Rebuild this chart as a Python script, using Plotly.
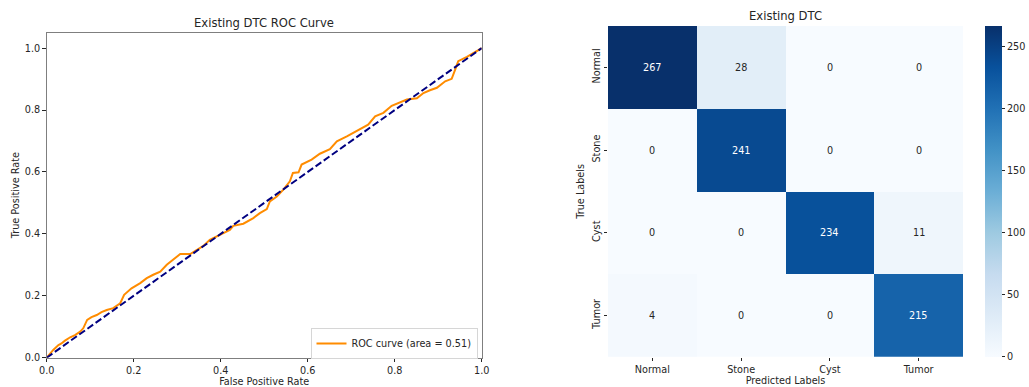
import plotly.graph_objects as go

# ROC curve points for the existing decision-tree classifier
fpr = [0.0, 0.015, 0.027, 0.034, 0.042, 0.054, 0.065, 0.077, 0.084, 0.093, 0.103, 0.115,
       0.126, 0.138, 0.153, 0.169, 0.178, 0.195, 0.215, 0.230, 0.245, 0.261, 0.276, 0.291,
       0.307, 0.330, 0.345, 0.360, 0.375, 0.398, 0.421, 0.429, 0.452, 0.475, 0.490, 0.506,
       0.513, 0.529, 0.544, 0.559, 0.566, 0.579, 0.586, 0.609, 0.628, 0.651, 0.667, 0.690,
       0.720, 0.739, 0.755, 0.774, 0.793, 0.808, 0.828, 0.851, 0.866, 0.881, 0.897, 0.916,
       0.931, 0.939, 0.946, 0.966, 0.981, 1.0]
tpr = [0.0, 0.025, 0.041, 0.046, 0.055, 0.066, 0.073, 0.084, 0.095, 0.122, 0.131, 0.138,
       0.147, 0.154, 0.160, 0.176, 0.203, 0.224, 0.241, 0.257, 0.268, 0.278, 0.300, 0.318,
       0.335, 0.335, 0.348, 0.361, 0.381, 0.397, 0.413, 0.426, 0.433, 0.451, 0.467, 0.480,
       0.505, 0.521, 0.543, 0.570, 0.597, 0.599, 0.624, 0.640, 0.659, 0.674, 0.699, 0.715,
       0.737, 0.753, 0.780, 0.791, 0.814, 0.823, 0.834, 0.838, 0.855, 0.864, 0.872, 0.893,
       0.901, 0.931, 0.958, 0.972, 0.985, 1.0]
roc_auc = 0.51
chance_x = [0, 1]
chance_y = [0, 1]
roc_ticks = [0.0, 0.2, 0.4, 0.6, 0.8, 1.0]

# Confusion matrix
class_labels = ["Normal", "Stone", "Cyst", "Tumor"]
conf_matrix = [
    [267, 28, 0, 0],
    [0, 241, 0, 0],
    [0, 0, 234, 11],
    [4, 0, 0, 215],
]
cbar_ticks = [0, 50, 100, 150, 200, 250]

blues = ["#f7fbff", "#deebf7", "#c6dbef", "#9ecae1", "#6baed6",
         "#4292c6", "#2171b5", "#08519c", "#08306b"]
blues_scale = [[i / (len(blues) - 1), c] for i, c in enumerate(blues)]

W, H = 1029, 387
FONT = "DejaVu Sans"
TXT = "#262626"
TICK_SIZE = 9.7


def px_x(p):
    return p / W


def px_y(p):
    return 1 - p / H


def hex_rgb(h):
    h = h.lstrip("#")
    return [int(h[i:i + 2], 16) / 255 for i in (0, 2, 4)]


def blues_at(t):
    t = min(max(t, 0), 1) * (len(blues) - 1)
    i = min(int(t), len(blues) - 2)
    f = t - i
    a, b = hex_rgb(blues[i]), hex_rgb(blues[i + 1])
    return [a[k] + (b[k] - a[k]) * f for k in range(3)]


def luminance(rgb):
    lin = [c / 12.92 if c <= 0.03928 else ((c + 0.055) / 1.055) ** 2.4 for c in rgb]
    return 0.2126 * lin[0] + 0.7152 * lin[1] + 0.0722 * lin[2]


fig = go.Figure()

fig.add_trace(go.Scatter(
    x=fpr, y=tpr, mode="lines",
    line=dict(color="#ff8c00", width=2),
    name=f"ROC curve (area = {roc_auc:.2f})",
    xaxis="x", yaxis="y",
))
fig.add_trace(go.Scatter(
    x=chance_x, y=chance_y, mode="lines",
    line=dict(color="#000080", width=2, dash="7px,3px"),
    showlegend=False, xaxis="x", yaxis="y",
))

zmax = max(max(r) for r in conf_matrix)
fig.add_trace(go.Heatmap(
    z=conf_matrix, x=class_labels, y=class_labels,
    colorscale=blues_scale, zmin=0, zmax=zmax,
    xaxis="x2", yaxis="y2", showscale=True,
    colorbar=dict(
        x=px_x(985), xanchor="left", xpad=0,
        y=px_y(356.7), yanchor="bottom", ypad=0,
        len=(356.7 - 26) / H, lenmode="fraction",
        thickness=17, outlinewidth=0,
        tickvals=cbar_ticks, ticks="outside", ticklen=3.5,
        tickcolor=TXT, tickfont=dict(family=FONT, size=TICK_SIZE, color=TXT),
    ),
))

annotations = []
for i, row in enumerate(conf_matrix):
    for j, v in enumerate(row):
        lum = luminance(blues_at(v / zmax))
        annotations.append(dict(
            x=class_labels[j], y=class_labels[i], xref="x2", yref="y2",
            text=str(v), showarrow=False,
            font=dict(family=FONT, size=TICK_SIZE, color="#ffffff" if lum < 0.408 else TXT),
        ))

annotations.append(dict(
    x=px_x(264.2), y=px_y(23), xref="paper", yref="paper",
    text="Existing DTC ROC Curve", showarrow=False,
    font=dict(family=FONT, size=11.6, color=TXT),
    xanchor="center", yanchor="middle",
))
annotations.append(dict(
    x=px_x(785.5), y=px_y(16), xref="paper", yref="paper",
    text="Existing DTC", showarrow=False,
    font=dict(family=FONT, size=11.6, color=TXT),
    xanchor="center", yanchor="middle",
))

axis_common = dict(
    showgrid=False, zeroline=False, automargin=False,
    ticks="outside", ticklen=3.5, tickcolor=TXT, tickwidth=1,
    tickfont=dict(family=FONT, size=TICK_SIZE, color=TXT),
)

fig.update_layout(
    width=W, height=H,
    margin=dict(l=0, r=0, t=0, b=0, autoexpand=False),
    paper_bgcolor="white", plot_bgcolor="white",
    font=dict(family=FONT, color=TXT),
    showlegend=True,
    legend=dict(
        x=px_x(477.5), xanchor="right", y=px_y(359), yanchor="bottom",
        bgcolor="white", bordercolor="#d6d6d6", borderwidth=1,
        font=dict(family=FONT, size=TICK_SIZE, color=TXT),
        itemwidth=30, tracegroupgap=0,
    ),
    xaxis=dict(
        axis_common, domain=[px_x(46.7), px_x(481.7)], range=[0, 1],
        tickvals=roc_ticks, tickformat=".1f",
        showline=True, mirror=True, linecolor="#7f7f7f", linewidth=1.2,
        title=dict(text="False Positive Rate", standoff=2,
                   font=dict(family=FONT, size=TICK_SIZE, color=TXT)),
        anchor="y",
    ),
    yaxis=dict(
        axis_common, domain=[px_y(357.7), px_y(32.7)], range=[0, 1.05],
        tickvals=roc_ticks, tickformat=".1f",
        showline=True, mirror=True, linecolor="#7f7f7f", linewidth=1.2,
        title=dict(text="True Positive Rate", standoff=3,
                   font=dict(family=FONT, size=TICK_SIZE, color=TXT)),
        anchor="x",
    ),
    xaxis2=dict(
        axis_common, domain=[px_x(608), px_x(963)],
        showline=False,
        title=dict(text="Predicted Labels", standoff=2,
                   font=dict(family=FONT, size=TICK_SIZE, color=TXT)),
        anchor="y2",
    ),
    yaxis2=dict(
        axis_common, domain=[px_y(356.7), px_y(26)],
        autorange="reversed", tickangle=-90, showline=False,
        title=dict(text="True Labels", standoff=4,
                   font=dict(family=FONT, size=TICK_SIZE, color=TXT)),
        anchor="x2",
    ),
    annotations=annotations,
)

fig.write_html("out.html")
